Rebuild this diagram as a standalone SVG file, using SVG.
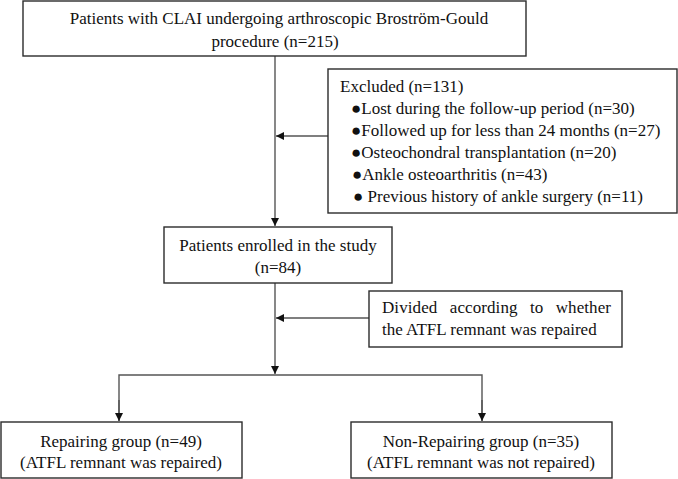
<svg xmlns="http://www.w3.org/2000/svg" width="678" height="479" viewBox="0 0 678 479">
<style>
.box{fill:#fff;stroke:#2b2b2b;stroke-width:1.4}
.t{font-family:"Liberation Serif","Times New Roman",serif;font-size:17px;fill:#111}
.c{text-anchor:middle}
.ln{fill:none;stroke:#555;stroke-width:1.4}
</style>
<defs>
<marker id="ah" viewBox="0 0 10 10" refX="10" refY="5" markerWidth="8" markerHeight="8" markerUnits="userSpaceOnUse" orient="auto">
<path d="M0,0 L10,5 L0,10 Z" fill="#111"/>
</marker>
</defs>
<rect width="678" height="479" fill="#fff"/>
<g id="connectors">
<line class="ln" x1="275" y1="56" x2="275" y2="226" marker-end="url(#ah)"/>
<line class="ln" x1="328" y1="136" x2="276" y2="136" marker-end="url(#ah)"/>
<line class="ln" x1="275" y1="283" x2="275" y2="374" marker-end="url(#ah)"/>
<line class="ln" x1="369" y1="318" x2="276" y2="318" marker-end="url(#ah)"/>
<polyline class="ln" points="119,421 119,375 482,375 482,421" />
<line class="ln" x1="119" y1="400" x2="119" y2="421" marker-end="url(#ah)"/>
<line class="ln" x1="482" y1="400" x2="482" y2="421" marker-end="url(#ah)"/>
</g>
<g id="top">
<rect class="box" x="23" y="1" width="503" height="55"/>
<text class="t c" x="279" y="24">Patients with CLAI undergoing arthroscopic Broström-Gould</text>
<text class="t c" x="275" y="47">procedure (n=215)</text>
</g>
<g id="excluded">
<rect class="box" x="328" y="69" width="349" height="144"/>
<text class="t" x="340" y="92">Excluded (n=131)</text>
<text class="t" x="351" y="114">●Lost during the follow-up period (n=30)</text>
<text class="t" x="351" y="136">●Followed up for less than 24 months (n=27)</text>
<text class="t" x="351" y="158">●Osteochondral transplantation (n=20)</text>
<text class="t" x="352" y="180">●Ankle osteoarthritis (n=43)</text>
<text class="t" x="353" y="202">● Previous history of ankle surgery (n=11)</text>
</g>
<g id="enrolled">
<rect class="box" x="164" y="227" width="228" height="56"/>
<text class="t c" x="278" y="251">Patients enrolled in the study</text>
<text class="t c" x="278" y="273">(n=84)</text>
</g>
<g id="divided">
<rect class="box" x="369" y="291" width="253" height="56"/>
<text class="t" x="382" y="313" textLength="229" lengthAdjust="spacing" style="word-spacing:8px">Divided according to whether</text>
<text class="t" x="382" y="335">the ATFL remnant was repaired</text>
</g>
<g id="repairing">
<rect class="box" x="1" y="422" width="241" height="56"/>
<text class="t c" x="121" y="447">Repairing group (n=49)</text>
<text class="t c" x="121" y="468">(ATFL remnant was repaired)</text>
</g>
<g id="nonrepairing">
<rect class="box" x="351" y="422" width="261" height="56"/>
<text class="t c" x="481" y="447">Non-Repairing group (n=35)</text>
<text class="t c" x="481" y="468">(ATFL remnant was not repaired)</text>
</g>
</svg>
